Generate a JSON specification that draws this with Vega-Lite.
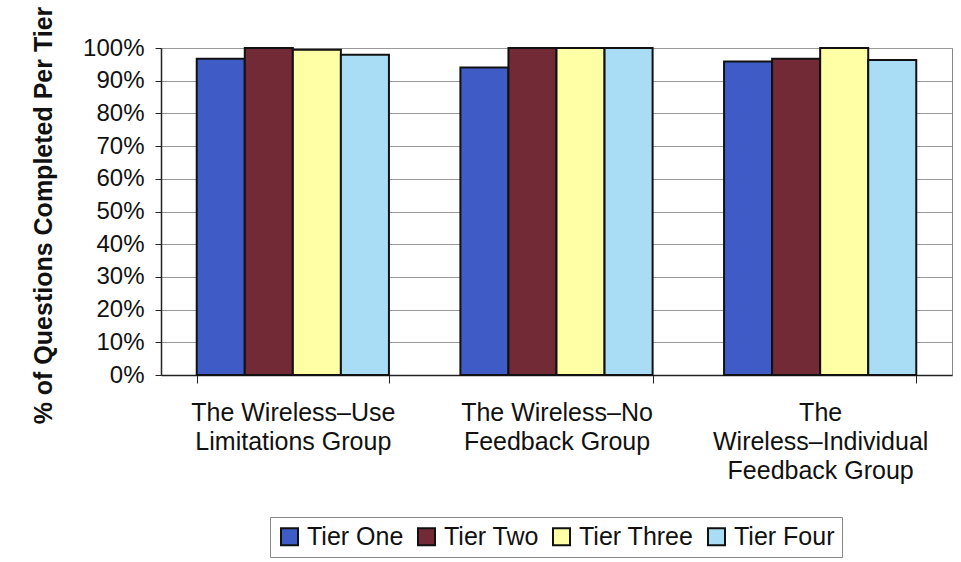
{
  "$schema": "https://vega.github.io/schema/vega-lite/v6.json",
  "width": 791,
  "height": 327,
  "autosize": {"type": "none"},
  "padding": {"left": 161, "top": 48, "right": 9, "bottom": 187},
  "background": "white",
  "data": {
    "values": [
      {"group": "The Wireless–Use Limitations Group", "tier": "Tier One", "pct": 0.967},
      {"group": "The Wireless–Use Limitations Group", "tier": "Tier Two", "pct": 1.0},
      {"group": "The Wireless–Use Limitations Group", "tier": "Tier Three", "pct": 0.995},
      {"group": "The Wireless–Use Limitations Group", "tier": "Tier Four", "pct": 0.979},
      {"group": "The Wireless–No Feedback Group", "tier": "Tier One", "pct": 0.94},
      {"group": "The Wireless–No Feedback Group", "tier": "Tier Two", "pct": 1.0},
      {"group": "The Wireless–No Feedback Group", "tier": "Tier Three", "pct": 1.0},
      {"group": "The Wireless–No Feedback Group", "tier": "Tier Four", "pct": 1.0},
      {"group": "The Wireless–Individual Feedback Group", "tier": "Tier One", "pct": 0.959},
      {"group": "The Wireless–Individual Feedback Group", "tier": "Tier Two", "pct": 0.967},
      {"group": "The Wireless–Individual Feedback Group", "tier": "Tier Three", "pct": 1.0},
      {"group": "The Wireless–Individual Feedback Group", "tier": "Tier Four", "pct": 0.963}
    ]
  },
  "mark": {"type": "bar", "stroke": "#111111", "strokeWidth": 2},
  "encoding": {
    "x": {
      "field": "group",
      "type": "nominal",
      "sort": ["The Wireless–Use Limitations Group", "The Wireless–No Feedback Group", "The Wireless–Individual Feedback Group"],
      "scale": {"paddingInner": 0.271, "paddingOuter": 0.1355},
      "axis": {
        "title": null,
        "labelAngle": 0,
        "labelExpr": "datum.value == 'The Wireless–Use Limitations Group' ? ['The Wireless–Use', 'Limitations Group'] : datum.value == 'The Wireless–No Feedback Group' ? ['The Wireless–No', 'Feedback Group'] : datum.value == 'The Wireless–Individual Feedback Group' ? ['The', 'Wireless–Individual', 'Feedback Group'] : ''",
        "labelFont": "Liberation Sans",
        "labelFontSize": 25,
        "labelLineHeight": 29,
        "labelLimit": 400,
        "labelColor": "#111111",
        "labelPadding": 17,
        "labelBaseline": "top",
        "tickBand": "extent",
        "tickSize": 8,
        "tickColor": "#222222",
        "domainColor": "#222222",
        "domainWidth": 1.5
      }
    },
    "xOffset": {"field": "tier", "sort": ["Tier One", "Tier Two", "Tier Three", "Tier Four"], "scale": {"paddingInner": 0, "paddingOuter": 0}},
    "y": {
      "field": "pct",
      "type": "quantitative",
      "scale": {"domain": [0, 1]},
      "axis": {
        "values": [0, 0.1, 0.2, 0.3, 0.4, 0.5, 0.6, 0.7, 0.8, 0.9, 1.0],
        "format": ".0%",
        "title": "% of Questions Completed Per Tier",
        "titleFont": "Liberation Sans",
        "titleFontSize": 25,
        "titleFontWeight": "bold",
        "titleColor": "#111111",
        "titleAngle": -90,
        "titleX": -118,
        "titleY": 167,
        "titleAlign": "center",
        "titleBaseline": "middle",
        "labelFont": "Liberation Sans",
        "labelFontSize": 24,
        "labelColor": "#111111",
        "labelPadding": 11,
        "tickSize": 6,
        "tickColor": "#222222",
        "domainColor": "#222222",
        "domainWidth": 1.5,
        "gridColor": "#999999",
        "gridWidth": 1
      }
    },
    "color": {
      "field": "tier",
      "type": "nominal",
      "scale": {
        "domain": ["Tier One", "Tier Two", "Tier Three", "Tier Four"],
        "range": ["#3F5CC6", "#722B36", "#FFFFA6", "#A8DDF5"]
      },
      "legend": {
        "title": null,
        "orient": "none",
        "legendX": 109,
        "legendY": 469,
        "direction": "horizontal",
        "symbolType": "square",
        "symbolSize": 289,
        "symbolStrokeColor": "#111111",
        "symbolStrokeWidth": 2,
        "symbolOpacity": 1,
        "labelFont": "Liberation Sans",
        "labelFontSize": 25,
        "labelColor": "#111111",
        "labelOffset": 5,
        "columnPadding": 10,
        "padding": 7,
        "strokeColor": "#888888",
        "fillColor": "white"
      }
    }
  },
  "config": {"view": {"stroke": "#888888", "strokeWidth": 1}}
}
